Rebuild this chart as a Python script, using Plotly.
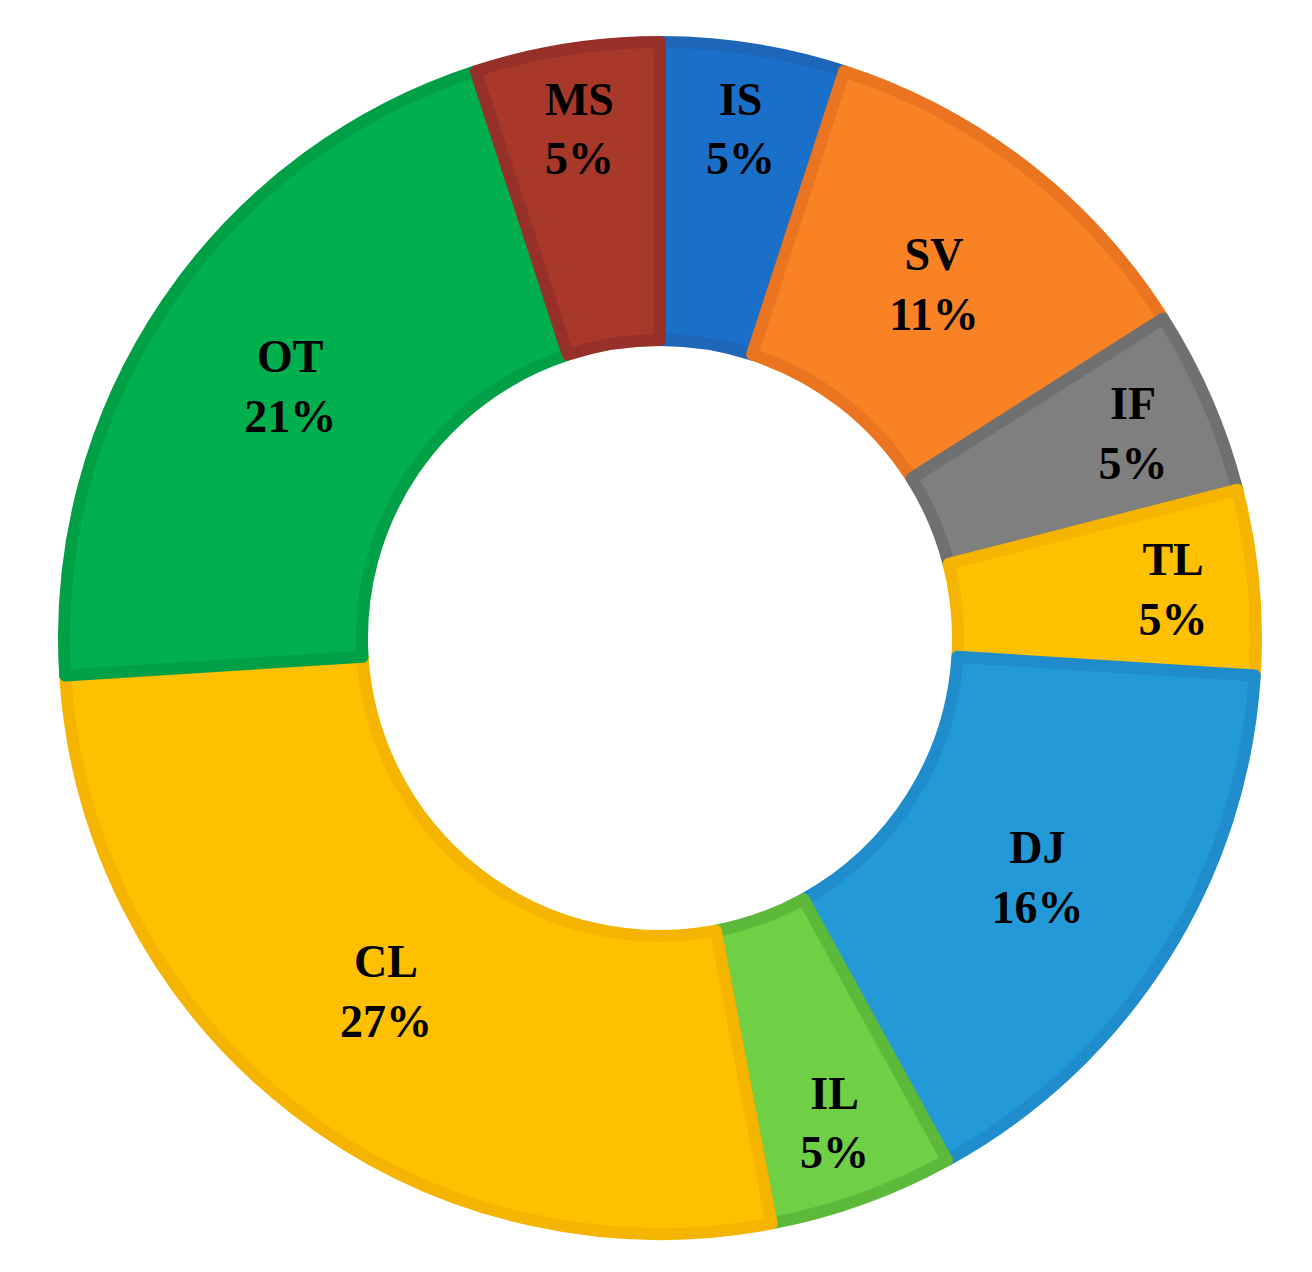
import plotly.graph_objects as go

labels = ["IS", "SV", "IF", "TL", "DJ", "IL", "CL", "OT", "MS"]
values = [5, 11, 5, 5, 16, 5, 27, 21, 5]
colors = ["#1a6fc9", "#f98224", "#7f7f7f", "#ffc000", "#2399d8", "#6fcf45", "#ffc000", "#00b04f", "#a8382a"]
borders = ["#1e66b8", "#ea7420", "#707070", "#f5b400", "#1f8ccb", "#5cb93a", "#f5b400", "#00a046", "#98302a"]

texts = [f"{l}<br>{v}%" for l, v in zip(labels, values)]

fig = go.Figure(go.Pie(
    labels=labels, values=values, text=texts, textinfo="text",
    hole=0.5, sort=False, direction="clockwise", rotation=0,
    marker=dict(colors=colors, line=dict(color=borders, width=12)),
    textfont=dict(family="Liberation Serif", size=46, color="black", weight="bold"),
    insidetextorientation="horizontal", textposition="inside",
))
fig.update_layout(
    width=1312, height=1272, showlegend=False,
    margin=dict(l=56, r=64, t=32, b=44),
    paper_bgcolor="white",
)
fig.write_html("out.html")
